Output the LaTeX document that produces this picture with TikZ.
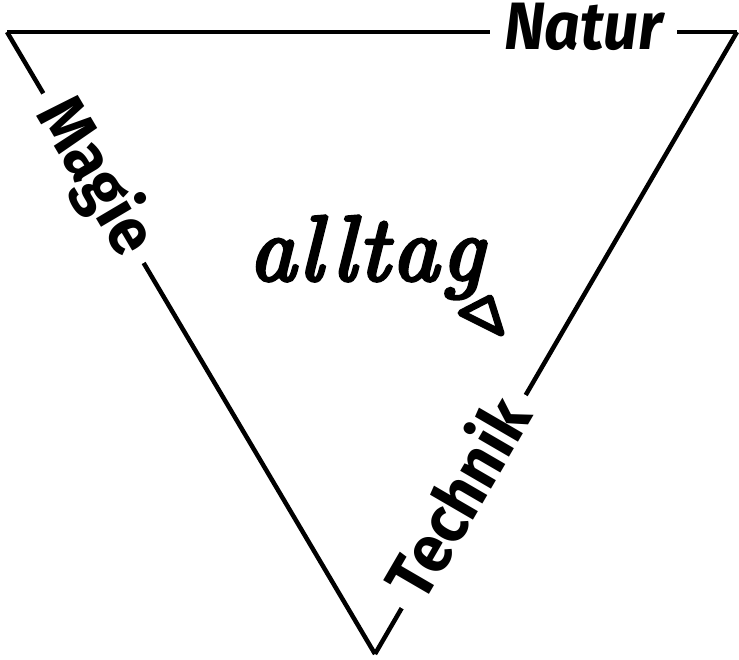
\documentclass[tikz,border=0pt]{standalone}
\usepackage{fontspec}
\newfontfamily\lblfont[FakeStretch=0.93]{Fira Sans}
\newfontfamily\handfont[FakeBold=4, LetterSpace=3]{lmroman10-italic.otf}
\usetikzlibrary{positioning}
\tikzset{
  edge/.style={line width=4.5pt, line join=miter},
  lbl/.style={font=\lblfont\bfseries\fontsize{67}{67}\selectfont, sloped, fill=white, inner xsep=14pt, inner ysep=0pt, text height=46pt, text depth=11pt},
  hand/.style={font=\handfont\fontsize{92}{92}\selectfont, inner sep=0pt},
  handline/.style={line width=7pt, line join=round, line cap=round}
}

\begin{document}
\begin{tikzpicture}[x=1pt, y=-1pt]
  \useasboundingbox (0,0) rectangle (739,659);
  % corners of the triangle
  \coordinate (tl) at (7,32);
  \coordinate (tr) at (737,32);
  \coordinate (bot) at (375,654);
  % the three sides with their labels
  \draw[edge] (tl) -- node[lbl, pos=0.79] (natur) {\itshape Natur} (tr);
  \draw[edge] (tl) -- node[lbl, pos=0.235] (magie) {Magie} (bot);
  \draw[edge] (bot) -- node[lbl, pos=0.245] (technik) {Technik} (tr);
  % in the middle
  \node[hand, anchor=base] (alltag) at (366,280) {alltag};
  \draw[handline] (461,313) -- (490,298) -- (501,333) -- cycle;
\end{tikzpicture}
\end{document}
